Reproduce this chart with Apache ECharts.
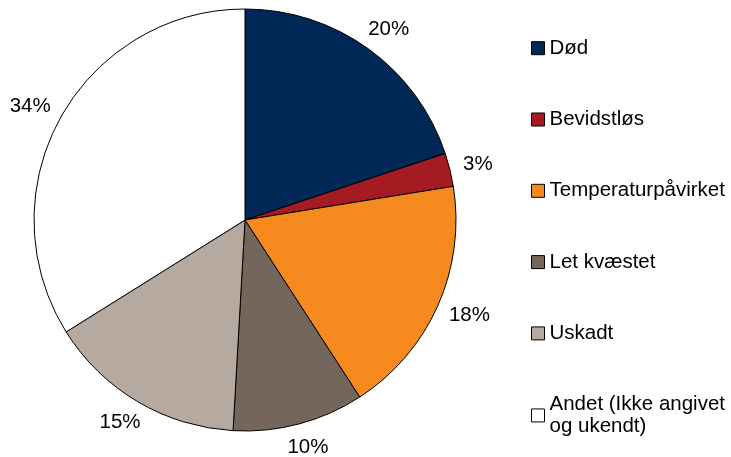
<!DOCTYPE html>
<html>
<head>
<meta charset="utf-8">
<script src="https://cdn.jsdelivr.net/npm/echarts@6/dist/echarts.min.js"></script>
<style>
  html, body { margin: 0; padding: 0; background: #fff; }
  #chart { width: 731px; height: 457px; }
</style>
</head>
<body>
<div id="chart"></div>
<script>
// kategorier og andele (%)
var categories = ['Død', 'Bevidstløs', 'Temperaturpåvirket', 'Let kvæstet', 'Uskadt', 'Andet (Ikke angivet\nog ukendt)'];
var shares = [19.9, 2.55, 18.4, 10.05, 15.2, 33.9];
var colors = ['#002856', '#A41B21', '#F68A1F', '#75665B', '#B6A9A0', '#FFFFFF'];

var chart = echarts.init(document.getElementById('chart'));

var pieData = categories.map(function (name, i) {
    return { name: name, value: shares[i], itemStyle: { color: colors[i] } };
});

var legendData = categories.map(function (name, i) {
    var item = { name: name };
    if (name.indexOf('\n') >= 0) {
        // fast højde: første linje flugter med ikonet, anden linje hænger under
        item.textStyle = { height: 21.5, lineHeight: 21.5 };
    }
    return item;
});

var option = {
    animation: false,
    textStyle: { fontFamily: 'Liberation Sans, Arial, sans-serif' },
    legend: {
        orient: 'vertical',
        left: 531,
        top: 37.7,
        padding: 0,
        itemGap: 50.3,
        itemWidth: 13,
        itemHeight: 13,
        icon: 'rect',
        itemStyle: { borderColor: '#000', borderWidth: 1 },
        textStyle: { fontSize: 20.5, color: '#000', lineHeight: 20 },
        data: legendData
    },
    series: [{
        type: 'pie',
        center: [245, 220],
        radius: 211,
        startAngle: 90,
        clockwise: true,
        avoidLabelOverlap: false,
        silent: true,
        itemStyle: { borderColor: '#000', borderWidth: 1 },
        label: {
            show: true,
            position: 'outside',
            distanceToLabelLine: 0,
            fontSize: 20.5,
            color: '#000',
            formatter: function (p) { return Math.round(p.value) + '%'; }
        },
        labelLine: {
            show: true,
            length: 14,
            length2: 0,
            lineStyle: { opacity: 0 }
        },
        // etiketten skubbes ud, så dens kasse ligger uden for cirklen
        labelLayout: function (p) {
            var pts = p.labelLinePoints;
            if (!pts) return {};
            var dx = pts[1][0] - pts[0][0];
            var dy = pts[1][1] - pts[0][1];
            var len = Math.sqrt(dx * dx + dy * dy) || 1;
            dx /= len; dy /= len;
            var w = p.labelRect.width, h = p.labelRect.height;
            return {
                x: pts[1][0] + dx * w / 2,
                y: pts[1][1] + dy * h / 2,
                align: 'center',
                verticalAlign: 'middle'
            };
        },
        data: pieData
    }]
};

chart.setOption(option);
</script>
</body>
</html>
